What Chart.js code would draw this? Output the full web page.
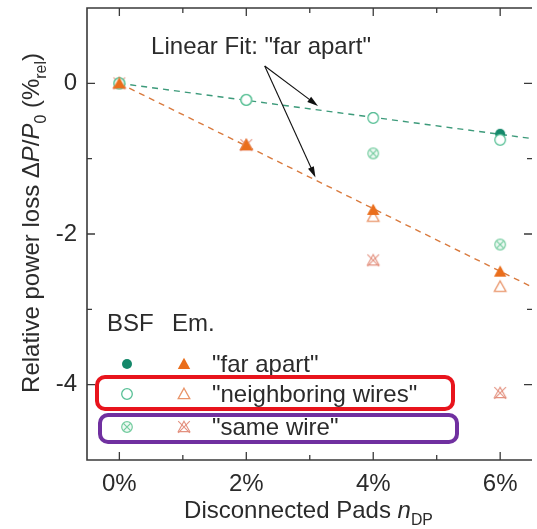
<!DOCTYPE html>
<html>
<head>
<meta charset="utf-8">
<script src="https://cdn.jsdelivr.net/npm/chart.js@4.4.1/dist/chart.umd.min.js"></script>
<style>
html, body { margin: 0; padding: 0; background: #fff; overflow: hidden; }
canvas { display: block; }
</style>
</head>
<body>
<canvas id="chart" width="537" height="529"></canvas>
<script>
// values (x = disconnected pads in %, y = rel. power loss in %rel)
const padsPct = [0, 2, 4, 6];
const bsfFarApart = [0, -0.22, -0.45, -0.67];
const bsfNeighboring = [0, -0.22, -0.46, -0.75];
const bsfSameWire = [0, -0.22, -0.93, -2.14];
const emFarApart = [0, -0.82, -1.68, -2.50];
const emNeighboring = [0, -0.82, -1.77, -2.70];
const emSameWire = [0, -0.82, -2.35, -4.11];

// linear fits of the "far apart" series
const fitX = [0, 6.47];
const fitBsf = [0, -0.73];
const fitEm = [0, -2.69];

const xTicks = [0, 2, 4, 6];
const xTickLabels = ['0%', '2%', '4%', '6%'];
const xMinorTicks = [1, 3, 5];
const yTicks = [-4, -2, 0];
const yTickLabels = ['-4', '-2', '0'];
const yMinorTicks = [-3, -1];

const legendLabels = ['"far apart"', '"neighboring wires"', '"same wire"'];
const annotText = 'Linear Fit: "far apart"';

const FONT = "'Liberation Sans', Arial, sans-serif";
const TXT = '#2b2b2b';

// marker images
function makeMarker(size, draw) {
    const c = document.createElement('canvas');
    c.width = size;
    c.height = size;
    draw(c.getContext('2d'), size / 2);
    return c;
}

function triPath(ctx, m, h) {
    ctx.beginPath();
    ctx.moveTo(m, m - h);
    ctx.lineTo(m + h * 1.0, m + h * 0.8);
    ctx.lineTo(m - h * 1.0, m + h * 0.8);
    ctx.closePath();
}

const mkFilledCircle = makeMarker(12, (ctx, m) => {
    ctx.fillStyle = '#14886a';
    ctx.beginPath(); ctx.arc(m, m, 5, 0, Math.PI * 2); ctx.fill();
});
const mkOpenCircle = makeMarker(14, (ctx, m) => {
    ctx.fillStyle = '#fff';
    ctx.strokeStyle = '#58c096';
    ctx.lineWidth = 1.3;
    ctx.beginPath(); ctx.arc(m, m, 5.3, 0, Math.PI * 2); ctx.fill(); ctx.stroke();
});
const mkCrossCircle = makeMarker(14, (ctx, m) => {
    ctx.fillStyle = '#eef9f3';
    ctx.strokeStyle = '#74cc9f';
    ctx.lineWidth = 1.2;
    ctx.beginPath(); ctx.arc(m, m, 5.3, 0, Math.PI * 2); ctx.fill(); ctx.stroke();
    const d = 3.6;
    ctx.beginPath();
    ctx.moveTo(m - d, m - d); ctx.lineTo(m + d, m + d);
    ctx.moveTo(m + d, m - d); ctx.lineTo(m - d, m + d);
    ctx.stroke();
});
const mkFilledTri = makeMarker(16, (ctx, m) => {
    ctx.fillStyle = '#ea6e1c';
    triPath(ctx, m, 6.2); ctx.fill();
});
const mkOpenTri = makeMarker(16, (ctx, m) => {
    ctx.fillStyle = '#fff';
    ctx.strokeStyle = '#e9956a';
    ctx.lineWidth = 1.3;
    triPath(ctx, m, 5.8); ctx.fill(); ctx.stroke();
});
const mkCrossTri = makeMarker(16, (ctx, m) => {
    ctx.strokeStyle = '#e3917f';
    ctx.lineWidth = 1.1;
    triPath(ctx, m, 5.8); ctx.stroke();
    const d = 5.8;
    ctx.beginPath();
    ctx.moveTo(m - d, m - d); ctx.lineTo(m + d, m + d);
    ctx.moveTo(m + d, m - d); ctx.lineTo(m - d, m + d);
    ctx.stroke();
});

function pts(xs, ys) {
    return xs.map((x, i) => ({ x: x, y: ys[i] }));
}

function markerSet(label, ys, img, order) {
    return {
        type: 'scatter',
        label: label,
        data: pts(padsPct, ys),
        pointStyle: img,
        pointRadius: 6,
        order: order
    };
}

function fitSet(label, ys, color) {
    return {
        type: 'line',
        label: label,
        data: pts(fitX, ys),
        borderColor: color,
        borderWidth: 1.4,
        borderDash: [6, 5],
        pointRadius: 0,
        fill: false,
        order: 9
    };
}

// rich text: parts = [{t, it, sub}]
function richWidth(ctx, parts, size) {
    let w = 0;
    parts.forEach(p => {
        ctx.font = (p.it ? 'italic ' : '') + (p.sub ? size * 0.66 : size) + 'px ' + FONT;
        w += ctx.measureText(p.t).width;
    });
    return w;
}
function drawRich(ctx, parts, cx, y, size) {
    let x = cx - richWidth(ctx, parts, size) / 2;
    ctx.textAlign = 'left';
    ctx.textBaseline = 'alphabetic';
    parts.forEach(p => {
        ctx.font = (p.it ? 'italic ' : '') + (p.sub ? size * 0.66 : size) + 'px ' + FONT;
        ctx.fillText(p.t, x, y + (p.sub ? size * 0.3 : 0));
        x += ctx.measureText(p.t).width;
    });
}

function drawArrow(ctx, x1, y1, x2, y2) {
    const a = Math.atan2(y2 - y1, x2 - x1);
    const len = 11, hw = 3.2;
    ctx.beginPath();
    ctx.moveTo(x1, y1);
    ctx.lineTo(x2 - Math.cos(a) * len * 0.8, y2 - Math.sin(a) * len * 0.8);
    ctx.stroke();
    ctx.beginPath();
    ctx.moveTo(x2, y2);
    ctx.lineTo(x2 - Math.cos(a) * len - Math.sin(a) * hw, y2 - Math.sin(a) * len + Math.cos(a) * hw);
    ctx.lineTo(x2 - Math.cos(a) * len + Math.sin(a) * hw, y2 - Math.sin(a) * len - Math.cos(a) * hw);
    ctx.closePath();
    ctx.fill();
}

function roundBox(ctx, x, y, w, h, r) {
    ctx.beginPath();
    ctx.moveTo(x + r, y);
    ctx.arcTo(x + w, y, x + w, y + h, r);
    ctx.arcTo(x + w, y + h, x, y + h, r);
    ctx.arcTo(x, y + h, x, y, r);
    ctx.arcTo(x, y, x + w, y, r);
    ctx.closePath();
}

// frame, inward ticks, titles, annotation and legend
const decorPlugin = {
    id: 'decor',
    afterDraw(chart) {
        const ctx = chart.ctx;
        const a = chart.chartArea;
        const xs = chart.scales.x, ys = chart.scales.y;
        ctx.save();

        // frame (right side lies just off the picture)
        ctx.strokeStyle = '#3a3a3a';
        ctx.lineWidth = 1.6;
        ctx.beginPath();
        ctx.moveTo(a.right + 2, a.top); ctx.lineTo(a.left, a.top);
        ctx.lineTo(a.left, a.bottom); ctx.lineTo(a.right + 2, a.bottom);
        ctx.stroke();

        ctx.lineWidth = 1.3;
        ctx.beginPath();
        const xt = (v, l) => {
            const p = xs.getPixelForValue(v);
            ctx.moveTo(p, a.bottom); ctx.lineTo(p, a.bottom - l);
            ctx.moveTo(p, a.top); ctx.lineTo(p, a.top + l);
        };
        const yt = (v, l) => {
            const p = ys.getPixelForValue(v);
            ctx.moveTo(a.left, p); ctx.lineTo(a.left + l, p);
            ctx.moveTo(a.right + 2, p); ctx.lineTo(a.right + 2 - l, p);
        };
        xTicks.forEach(v => xt(v, 8));
        xMinorTicks.forEach(v => xt(v, 5));
        yTicks.forEach(v => yt(v, 8));
        yMinorTicks.forEach(v => yt(v, 5));
        ctx.stroke();

        // axis titles
        ctx.fillStyle = TXT;
        drawRich(ctx, [
            { t: 'Disconnected Pads ' }, { t: 'n', it: true }, { t: 'DP', sub: true }
        ], (a.left + a.right) / 2, 518, 24);

        ctx.save();
        ctx.translate(39, 223);
        ctx.rotate(-Math.PI / 2);
        drawRich(ctx, [
            { t: 'Relative power loss \u0394' }, { t: 'P', it: true }, { t: '/' },
            { t: 'P', it: true }, { t: '0', sub: true }, { t: ' (%' },
            { t: 'rel', sub: true }, { t: ')' }
        ], 0, 0, 24);
        ctx.restore();

        // annotation with arrows
        ctx.font = '24px ' + FONT;
        ctx.textAlign = 'left';
        ctx.textBaseline = 'middle';
        ctx.fillText(annotText, xs.getPixelForValue(0.5), ys.getPixelForValue(0.48));
        ctx.strokeStyle = '#111';
        ctx.fillStyle = '#111';
        ctx.lineWidth = 1.1;
        const sx = xs.getPixelForValue(2.29), sy = ys.getPixelForValue(0.23);
        drawArrow(ctx, sx, sy, xs.getPixelForValue(3.13), ys.getPixelForValue(-0.30));
        drawArrow(ctx, sx, sy, xs.getPixelForValue(3.09), ys.getPixelForValue(-1.25));

        // legend
        ctx.fillStyle = TXT;
        ctx.font = '24px ' + FONT;
        ctx.textBaseline = 'middle';
        ctx.fillText('BSF', 107, 324);
        ctx.fillText('Em.', 172, 324);
        const rows = [364, 394, 427];
        const bsfImgs = [mkFilledCircle, mkOpenCircle, mkCrossCircle];
        const emImgs = [mkFilledTri, mkOpenTri, mkCrossTri];
        rows.forEach((ry, i) => {
            ctx.drawImage(bsfImgs[i], 127 - bsfImgs[i].width / 2, ry - bsfImgs[i].height / 2);
            ctx.drawImage(emImgs[i], 184 - emImgs[i].width / 2, ry - emImgs[i].height / 2);
            ctx.fillText(legendLabels[i], 212, ry + 1);
        });
        ctx.lineWidth = 4;
        ctx.strokeStyle = '#e8141c';
        roundBox(ctx, 97, 377, 356, 32, 8);
        ctx.stroke();
        ctx.strokeStyle = '#7030a0';
        roundBox(ctx, 100, 415, 357, 27, 8);
        ctx.stroke();

        ctx.restore();
    }
};

Chart.defaults.font.family = FONT;
Chart.defaults.color = TXT;

function noEdgePadding(s) {
    s.paddingTop = 0;
    s.paddingBottom = 0;
    s.paddingLeft = 0;
    s.paddingRight = 0;
}

new Chart(document.getElementById('chart'), {
    type: 'scatter',
    data: {
        datasets: [
            markerSet('BSF far apart', bsfFarApart, mkFilledCircle, 4),
            markerSet('BSF neighboring wires', bsfNeighboring, mkOpenCircle, 2),
            markerSet('BSF same wire', bsfSameWire, mkCrossCircle, 5),
            markerSet('Em. far apart', emFarApart, mkFilledTri, 1),
            markerSet('Em. neighboring wires', emNeighboring, mkOpenTri, 3),
            markerSet('Em. same wire', emSameWire, mkCrossTri, 6),
            fitSet('Fit BSF far apart', fitBsf, '#3c9a7a'),
            fitSet('Fit Em. far apart', fitEm, '#d97a3e')
        ]
    },
    options: {
        responsive: false,
        animation: false,
        layout: { padding: { top: 8, right: 0, left: 0, bottom: 0 } },
        plugins: {
            legend: { display: false },
            tooltip: { enabled: false }
        },
        scales: {
            x: {
                type: 'linear',
                min: -0.51,
                max: 6.47,
                grid: { display: false, drawTicks: false },
                border: { display: false },
                afterBuildTicks: s => { s.ticks = xTicks.map(v => ({ value: v })); },
                afterFit: s => { s.height = 69; noEdgePadding(s); },
                ticks: {
                    font: { size: 24 },
                    padding: 10,
                    maxRotation: 0,
                    callback: (v) => xTickLabels[xTicks.indexOf(v)]
                }
            },
            y: {
                type: 'linear',
                min: -5,
                max: 1,
                grid: { display: false, drawTicks: false },
                border: { display: false },
                afterBuildTicks: s => { s.ticks = yTicks.map(v => ({ value: v })); },
                afterFit: s => { s.width = 87; noEdgePadding(s); },
                ticks: {
                    font: { size: 24 },
                    padding: 10,
                    callback: (v) => yTickLabels[yTicks.indexOf(v)]
                }
            }
        }
    },
    plugins: [decorPlugin]
});
</script>
</body>
</html>
